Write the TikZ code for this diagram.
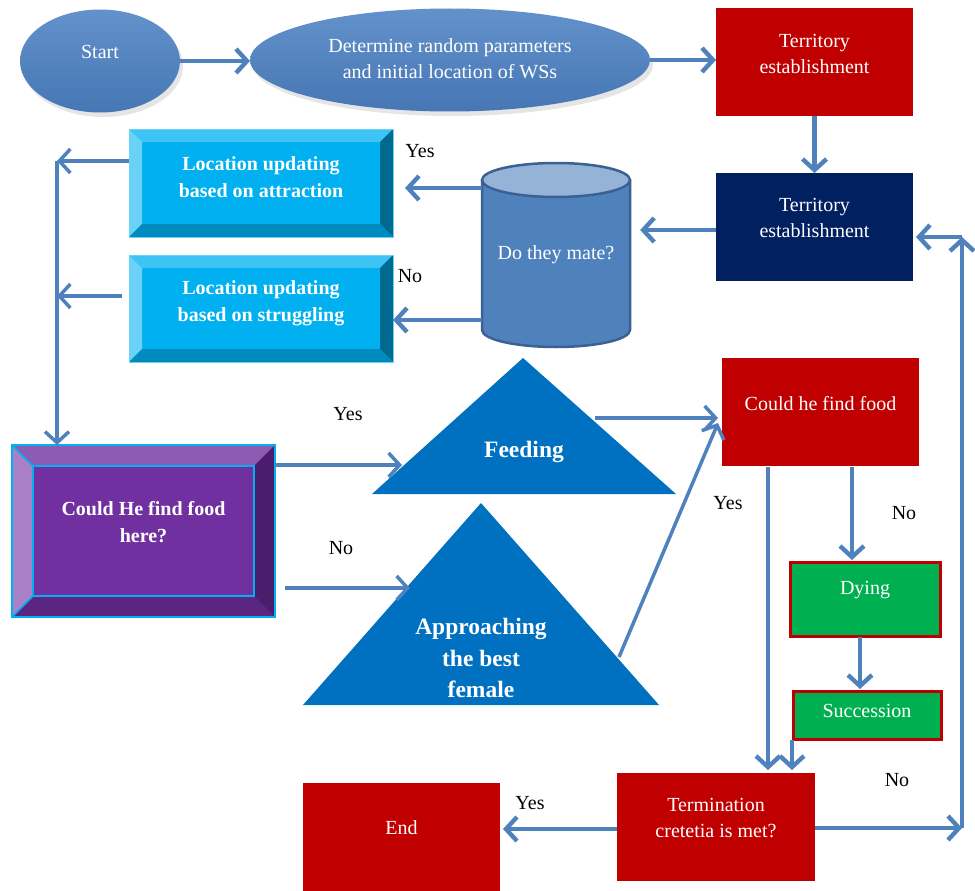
\documentclass[tikz,border=0pt]{standalone}
\usepackage{fontspec}
\setmainfont{Liberation Serif}
\usetikzlibrary{arrows.meta,calc,shapes.geometric}

\definecolor{flow}{HTML}{4F81BD}
\definecolor{ellTop}{HTML}{6391CB}
\definecolor{ellBot}{HTML}{4677B4}
\definecolor{darkred}{HTML}{C00000}
\definecolor{navy}{HTML}{002060}
\definecolor{triblue}{HTML}{0070C0}
\definecolor{leafgreen}{HTML}{00B050}
\definecolor{cyanface}{HTML}{00B0F0}
\definecolor{cyanTop}{HTML}{3EC4F4}
\definecolor{cyanLeft}{HTML}{6BD2F7}
\definecolor{cyanRight}{HTML}{006990}
\definecolor{cyanBot}{HTML}{008BBE}
\definecolor{purFace}{HTML}{7030A0}
\definecolor{purTop}{HTML}{8E5BB2}
\definecolor{purLeft}{HTML}{A981C8}
\definecolor{purRight}{HTML}{4A1E6C}
\definecolor{purBot}{HTML}{5A2681}
\definecolor{cylBody}{HTML}{4F81BD}
\definecolor{cylTop}{HTML}{95B3D7}
\definecolor{cylEdge}{HTML}{3A6192}

% four bevel faces around a rectangular node: name, depth, top, left, right, bottom
\newcommand\bevelfaces[6]{%
  \fill[#3] (#1.north west) -- (#1.north east) -- ($(#1.north east)+(-#2,#2)$) -- ($(#1.north west)+(#2,#2)$) -- cycle;
  \fill[#4] (#1.north west) -- ($(#1.north west)+(#2,#2)$) -- ($(#1.south west)+(#2,-#2)$) -- (#1.south west) -- cycle;
  \fill[#5] (#1.north east) -- ($(#1.north east)+(-#2,#2)$) -- ($(#1.south east)+(-#2,-#2)$) -- (#1.south east) -- cycle;
  \fill[#6] (#1.south west) -- ($(#1.south west)+(#2,-#2)$) -- ($(#1.south east)+(-#2,-#2)$) -- (#1.south east) -- cycle;
}

\begin{document}
\begin{tikzpicture}[x=1pt,y=-1pt,
  font=\fontsize{20}{26}\selectfont,
  arr/.style={draw=flow, line width=4.4pt, -{Straight Barb[length=11pt,width=24pt]}},
  thinarr/.style={arr, line width=3.5pt},
  box/.style={rectangle, inner sep=0, outer sep=0, draw=none},
  ell/.style={ellipse, inner sep=0, outer sep=0, top color=ellTop, bottom color=ellBot, draw=none},
  txt/.style={text=white, align=center, inner sep=0},
  btxt/.style={txt, font=\fontsize{20}{27}\selectfont\bfseries},
  lbl/.style={text=black, inner sep=0}
]
\useasboundingbox (0,0) rectangle (975,891);

% ---------- top row ----------
\fill[black!10] (103,66) ellipse[x radius=80, y radius=51];
\fill[black!10] (453,65) ellipse[x radius=200, y radius=51];
\node[ell, minimum width=160, minimum height=103] (start) at (100,61) {};
\node[txt] (startT) at (100,52) {Start};
\node[ell, minimum width=400, minimum height=103] (det) at (450,60) {};
\node[txt] (detT) at (450,59) {Determine random parameters\\and initial location of WSs};
\node[box, fill=darkred, minimum width=197, minimum height=108] (ter1) at (814.5,62) {};
\node[txt] (ter1T) at (814.5,54) {Territory\\establishment};

% ---------- mating stage ----------
\node[box, fill=navy, minimum width=197, minimum height=108] (ter2) at (814.5,227) {};
\node[txt] (ter2T) at (814.5,218) {Territory\\establishment};

\fill[cylBody] (482,180) -- (482,330) arc[start angle=180,end angle=0,x radius=74,y radius=17] -- (630,180) -- cycle;
\draw[cylEdge, line width=2.5pt] (482,180) -- (482,330) arc[start angle=180,end angle=0,x radius=74,y radius=17] -- (630,180);
\filldraw[fill=cylTop, draw=cylEdge, line width=2.5pt] (556,180) ellipse[x radius=74, y radius=17];
\node[txt, minimum width=148, minimum height=184] (cyl) at (556,255) {Do they mate?};

\node[box, fill=cyanface, minimum width=264, minimum height=108] (loc1) at (261,183) {};
\bevelfaces{loc1}{13}{cyanTop}{cyanLeft}{cyanRight}{cyanBot}
\draw[cyanLeft, line width=1pt] (loc1.north west) rectangle (loc1.south east);
\node[btxt] (loc1T) at (261,177.5) {Location updating\\based on attraction};

\node[box, fill=cyanface, minimum width=264, minimum height=107] (loc2) at (261,308.5) {};
\bevelfaces{loc2}{13}{cyanTop}{cyanLeft}{cyanRight}{cyanBot}
\draw[cyanLeft, line width=1pt] (loc2.north west) rectangle (loc2.south east);
\node[btxt] (loc2T) at (261,303.5) {Location updating\\based on struggling};

% ---------- food decision ----------
\node[box, fill=purFace, minimum width=263, minimum height=172] (pur) at (143.5,531) {};
\bevelfaces{pur}{21}{purTop}{purLeft}{purRight}{purBot}
\draw[cyanface, line width=2.5pt] (pur.north west) rectangle (pur.south east);
\draw[cyanface, line width=2pt] ($(pur.north west)+(21,21)$) rectangle ($(pur.south east)+(-21,-21)$);
\draw[cyanface, line width=1.5pt] (pur.north west) -- ++(21,21) (pur.south west) -- ++(21,-21);
\node[btxt] (purT) at (143.5,522) {Could He find food\\here?};

\fill[triblue] (523,358) -- (676,494) -- (372,494) -- cycle;
\node[txt, font=\fontsize{23.5}{31}\selectfont\bfseries] (feed) at (524,452) {Feeding};
\fill[triblue] (481,503) -- (659,705) -- (303,705) -- cycle;
\node[txt, font=\fontsize{23.5}{31.5}\selectfont\bfseries] (appr) at (481,658) {Approaching\\the best\\female};

\node[box, fill=darkred, minimum width=197, minimum height=108] (food) at (820.5,412) {};
\node[txt] (foodT) at (820.5,404) {Could he find food};
\node[box, fill=leafgreen, draw=darkred, line width=3pt, minimum width=150, minimum height=74] (dying) at (865,599) {};
\node[txt] (dyingT) at (865,590) {Dying};
\node[box, fill=leafgreen, draw=darkred, line width=3pt, minimum width=148, minimum height=48] (succ) at (867,715) {};
\node[txt] (succT) at (867,711) {Succession};

\node[box, fill=darkred, minimum width=198, minimum height=108] (term) at (716,827) {};
\node[txt] (termT) at (716,818) {Termination\\cretetia is met?};
\node[box, fill=darkred, minimum width=197, minimum height=108] (end) at (401.5,837) {};
\node[txt] (endT) at (401.5,828) {End};

% ---------- branch labels ----------
\node[lbl] (l1) at (420,151) {Yes};
\node[lbl] (l2) at (410,276) {No};
\node[lbl] (l3) at (348,414) {Yes};
\node[lbl] (l4) at (341,548) {No};
\node[lbl] (l5) at (728,503) {Yes};
\node[lbl] (l6) at (904,513) {No};
\node[lbl] (l7) at (530,803) {Yes};
\node[lbl] (l8) at (897,780) {No};

% ---------- connector end points ----------
\coordinate (mateYes) at (482,188);
\coordinate (mateNo) at (482,320);
\coordinate (lv1) at (57,161);
\coordinate (lv2) at (57,296);
\coordinate (l2s) at (122,296);
\coordinate (fy) at (402,465);
\coordinate (ps) at (285,588);
\coordinate (ay) at (410,588);
\coordinate (fs) at (595,418);
\coordinate (as) at (619,657);
\coordinate (fe) at (718,423);
\coordinate (fd1) at (768,467);
\coordinate (fd2) at (852,467);
\coordinate (dd) at (860,637);
\coordinate (sd) at (792,740);
\coordinate (rc1) at (962,828);
\coordinate (rc2) at (962,237);

% ---------- connectors ----------
\draw[arr] (start.east) -- (start.east -| det.west);
\draw[arr] (det.east) -- (det.east -| ter1.west);
\draw[arr] (ter1.south) -- (ter2.north);
\draw[arr, shorten >=10pt] (ter2.west |- 0,230) -- (cyl.east |- 0,230);
\draw[arr, shorten >=12pt] (mateYes) -- (mateYes -| loc1.east);
\draw[arr] (mateNo) -- (mateNo -| loc2.east);
\draw[thinarr] (loc1.west |- lv1) -- (lv1);
\draw[thinarr] (l2s) -- (lv2);
\draw[thinarr] (lv1) -- (lv1 |- pur.north);
\draw[thinarr] (pur.east |- fy) -- (fy);
\draw[thinarr] (ps) -- (ay);
\draw[thinarr, shorten >=4pt] (fs) -- (fs -| food.west);
\draw[thinarr] (as) -- (fe);
\draw[arr, shorten >=3pt] (fd1) -- (fd1 |- term.north);
\draw[arr, shorten >=2pt] (fd2) -- (fd2 |- dying.north);
\draw[arr, shorten >=2pt] (dd) -- (dd |- succ.north);
\draw[arr, shorten >=3pt] (sd) -- (sd |- term.north);
\draw[arr, shorten >=3pt] (term.west |- 0,829) -- (end.east |- 0,829);
\draw[arr] (term.east |- rc1) -- (rc1);
\draw[arr] (rc1) -- (rc2);
\draw[arr, shorten >=3pt] (rc2) -- (rc2 -| ter2.east);
\end{tikzpicture}
\end{document}
